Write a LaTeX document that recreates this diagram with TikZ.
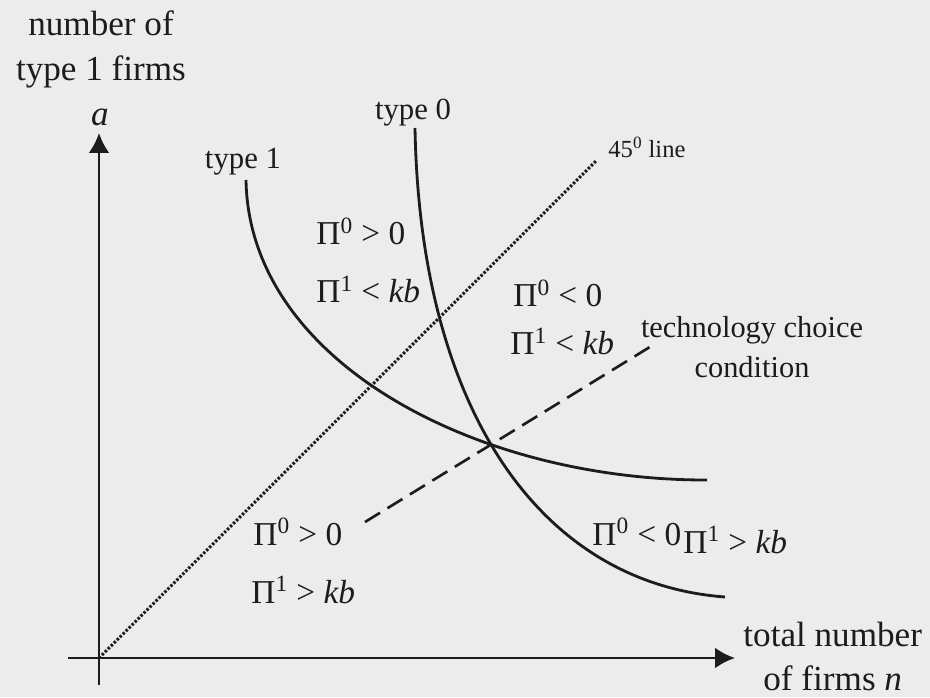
\documentclass[tikz,border=0pt]{standalone}
\usepackage{fontspec}
\setmainfont{Liberation Serif}
\usetikzlibrary{arrows.meta,intersections,calc,positioning}
\definecolor{paper}{RGB}{236,236,236}
\definecolor{ink}{RGB}{28,28,28}
\begin{document}
\begin{tikzpicture}[color=ink, line width=1.6pt,
    axis/.style={line width=1.7pt, -{Latex[length=0.4cm,width=0.42cm]}},
    lbl/.style={inner sep=0pt, anchor=base west, font=\fontsize{19}{23}\selectfont},
    axlbl/.style={inner sep=0pt, align=center, font=\fontsize{20}{25.5}\selectfont},
    typelbl/.style={inner sep=0pt, font=\fontsize{17.5}{21}\selectfont}]
   \fill[paper] (-1.98,-0.78) rectangle (16.62,13.16);
   \useasboundingbox (-1.98,-0.78) rectangle (16.62,13.16);
   \coordinate (O) at (0,0);
   \coordinate (ybot) at (0,-0.54);
   \coordinate (ytip) at (0,10.5);
   \coordinate (xleft) at (-0.62,0);
   \coordinate (xtip) at (12.72,0);
   \draw[axis] (ybot) -- (ytip);
   \draw[axis] (xleft) -- (xtip);
   \node[inner sep=0pt, font=\fontsize{20}{24}\selectfont\itshape] (a) at (0.02,10.82) {a};
   \node[axlbl] (ylab) at (0.04,12.17) {number of\\type 1 firms};
   \node[axlbl, right=0.14 of xtip, yshift=0.03cm] (xlab) {total number\\of firms \textit{n}};
   % 45 degree line
   \coordinate (d45) at (9.96,9.96);
   \draw[line width=1.8pt, dash pattern=on 1.4pt off 1pt] (O) -- (d45);
   \node[inner sep=0pt, anchor=base west, font=\fontsize{14}{17}\selectfont] (l45) at (10.16,10.0) {45\textsuperscript{0} line};
   % the two curves
   \coordinate (t1top) at (2.94,9.56);
   \coordinate (t1end) at (12.16,3.56);
   \coordinate (t0top) at (6.32,10.6);
   \coordinate (t0end) at (12.52,1.22);
   \draw[name path=t1] (t1top) .. controls (3.0,5.9) and (7.6,3.55) .. (t1end);
   \draw[name path=t0] (t0top) .. controls (6.42,5.0) and (8.8,1.5) .. (t0end);
   \path[name intersections={of=t1 and t0, by=eq}];
   \node[typelbl] (l1) at (2.88,9.92) {type 1};
   \node[typelbl] (l0) at (6.28,10.9) {type 0};
   % technology choice condition
   \coordinate (dlow) at (5.32,2.72);
   \coordinate (dhigh) at ($(dlow)!2.28!(eq)$);
   \draw[line width=1.5pt, dash pattern=on 10pt off 5pt] (dlow) -- (dhigh);
   \node[inner sep=0pt, align=center, font=\fontsize{17.3}{22.7}\selectfont] (tech) at (13.06,6.22) {technology choice\\condition};
   % regions
   \node[lbl] (r1a) at (4.32,8.26) {Π\textsuperscript{0} > 0};
   \node[lbl] (r1b) at (4.32,7.1) {Π\textsuperscript{1} < \textit{kb}};
   \node[lbl] (r2a) at (8.26,7.02) {Π\textsuperscript{0} < 0};
   \node[lbl] (r2b) at (8.2,6.06) {Π\textsuperscript{1} < \textit{kb}};
   \node[lbl] (r3a) at (3.06,2.26) {Π\textsuperscript{0} > 0};
   \node[lbl] (r3b) at (3.02,1.1) {Π\textsuperscript{1} > \textit{kb}};
   \node[lbl] (r4a) at (9.84,2.26) {Π\textsuperscript{0} < 0};
   \node[lbl] (r4b) at (11.66,2.1) {Π\textsuperscript{1} > \textit{kb}};
\end{tikzpicture}
\end{document}
